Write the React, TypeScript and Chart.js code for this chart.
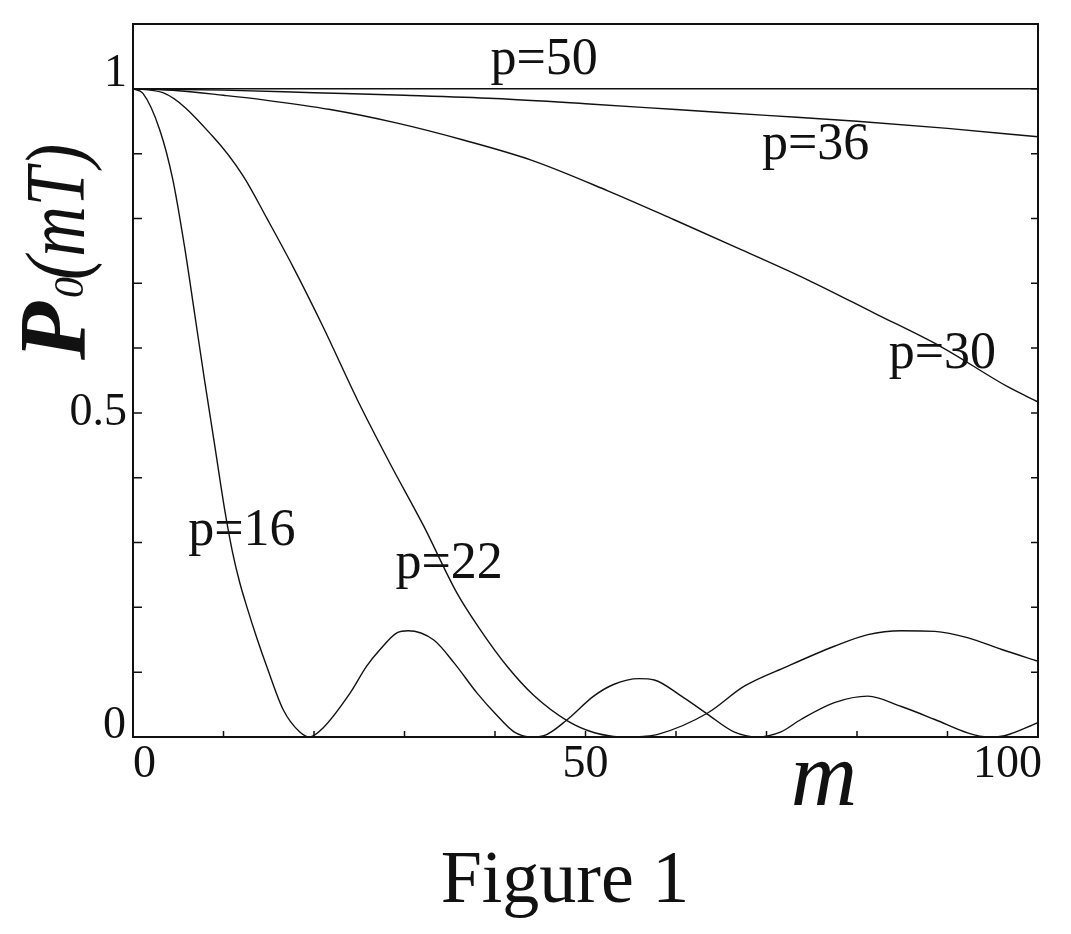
import React, { useEffect, useRef } from "react";
import { Chart, registerables } from "chart.js";

Chart.register(...registerables);

// values: m (x) and P0(mT) (y) for each p
const seriesNames = ["p=16", "p=22", "p=30", "p=36", "p=50"];

const mP16 = [0, 1.1, 2.95, 4.4, 5.7, 6.8, 7.9, 9.05, 10.2, 11.0, 11.8, 12.6, 13.7, 14.8, 16.6, 18.4, 19.5, 21, 24, 25.8, 27.3, 29.2, 30.4, 33.2, 35.5, 38, 40.3, 42.1, 44, 45.4, 48, 50.9, 53.1, 55.9, 57.6, 60.6, 63.5, 66.4, 69, 71.6, 73.8, 77.5, 81.2, 84.9, 88.6, 92.3, 94.5, 96.3, 100];
const pP16 = [1, 0.993, 0.937, 0.86, 0.756, 0.654, 0.551, 0.448, 0.345, 0.285, 0.238, 0.2, 0.152, 0.108, 0.042, 0.008, 0, 0.014, 0.068, 0.109, 0.135, 0.161, 0.164, 0.15, 0.114, 0.068, 0.032, 0.008, 0, 0.002, 0.027, 0.063, 0.081, 0.09, 0.088, 0.063, 0.035, 0.008, 0, 0.008, 0.027, 0.053, 0.063, 0.047, 0.027, 0.006, 0, 0.002, 0.022];

const mP22 = [0, 3.3, 8.85, 12.2, 14.8, 17.7, 21, 24.8, 28.4, 32.1, 35.8, 38.4, 41.4, 44.3, 48, 50.9, 53.1, 54.5, 56.4, 58, 63.5, 67.5, 72.3, 77.5, 81.2, 84.9, 88.6, 92.3, 96, 100];
const pP22 = [1, 0.994, 0.926, 0.865, 0.8, 0.725, 0.633, 0.52, 0.422, 0.326, 0.222, 0.165, 0.108, 0.064, 0.025, 0.007, 0.001, 0, 0.001, 0.004, 0.037, 0.078, 0.109, 0.14, 0.158, 0.164, 0.163, 0.153, 0.135, 0.117];

const mP30 = [0, 5, 10, 14.4, 21.8, 29.2, 36.5, 44, 52.4, 59.8, 67.2, 74.6, 81.9, 89.3, 96.7, 100];
const pP30 = [1, 0.997, 0.99, 0.983, 0.968, 0.947, 0.921, 0.89, 0.843, 0.798, 0.752, 0.705, 0.654, 0.602, 0.54, 0.517];

const mP36 = [0, 10, 20, 30, 40, 50, 60, 70, 80, 90, 100];
const pP36 = [1, 0.998, 0.994, 0.99, 0.985, 0.977, 0.968, 0.959, 0.95, 0.939, 0.926];

const mP50 = [0, 25, 50, 75, 100];
const pP50 = [1, 1, 1, 1, 1];

const xMinorTicks = [10, 20, 30, 40, 50, 60, 70, 80, 90];
const yMinorTicks = [0.1, 0.2, 0.3, 0.4, 0.5, 0.6, 0.7, 0.8, 0.9, 1.0];
const xTickLabels = [0, 50, 100];
const yTickLabels = [0, 0.5, 1];

const FONT = "'Liberation Serif', 'Times New Roman', serif";

// where each curve's label sits, in data units (left edge, baseline)
const labelSpots: [number, number][] = [
	[6.1, 0.296],
	[29.0, 0.245],
	[83.5, 0.569],
	[69.5, 0.892],
	[39.5, 1.023],
];

const overlay = {
	id: "overlay",
	afterDraw(chart: any) {
		const { ctx, chartArea: a } = chart;
		const x = chart.scales.x;
		const y = chart.scales.y;
		ctx.save();
		ctx.strokeStyle = "#111";
		ctx.fillStyle = "#111";

		// frame
		ctx.lineWidth = 2;
		ctx.strokeRect(a.left, a.top, a.right - a.left, a.bottom - a.top);

		// inward ticks
		ctx.lineWidth = 1.5;
		ctx.beginPath();
		xMinorTicks.forEach((v) => {
			const px = x.getPixelForValue(v);
			ctx.moveTo(px, a.bottom);
			ctx.lineTo(px, a.bottom - 6);
		});
		yMinorTicks.forEach((v) => {
			const py = y.getPixelForValue(v);
			ctx.moveTo(a.left, py);
			ctx.lineTo(a.left + 9, py);
			ctx.moveTo(a.right, py);
			ctx.lineTo(a.right - 7, py);
		});
		ctx.stroke();

		// tick labels
		ctx.font = `46px ${FONT}`;
		ctx.textBaseline = "alphabetic";
		xTickLabels.forEach((v, i) => {
			const px = x.getPixelForValue(v);
			ctx.textAlign = i === 0 ? "left" : i === xTickLabels.length - 1 ? "right" : "center";
			const dx = i === 0 ? 0 : i === xTickLabels.length - 1 ? 4 : 0;
			ctx.fillText(String(v), px + dx, a.bottom + 40);
		});
		ctx.textAlign = "right";
		yTickLabels.forEach((v, i) => {
			const py = y.getPixelForValue(v);
			if (i === 0) {
				ctx.textBaseline = "alphabetic";
				ctx.fillText(String(v), a.left - 7, py + 1);
			} else if (i === yTickLabels.length - 1) {
				ctx.textBaseline = "alphabetic";
				ctx.fillText(String(v), a.left - 6, py - 3);
			} else {
				ctx.textBaseline = "middle";
				ctx.fillText(String(v), a.left - 6, py);
			}
		});

		// curve labels
		ctx.font = `52px ${FONT}`;
		ctx.textAlign = "left";
		ctx.textBaseline = "alphabetic";
		seriesNames.forEach((name, i) => {
			const [lm, lp] = labelSpots[i];
			ctx.fillText(name, x.getPixelForValue(lm), y.getPixelForValue(lp));
		});

		// x title
		ctx.font = `italic 92px ${FONT}`;
		ctx.textAlign = "center";
		ctx.fillText("m", 824, a.bottom + 68);

		// caption
		ctx.font = `74px ${FONT}`;
		ctx.fillText("Figure 1", 565, 902);

		// y title, rotated
		ctx.save();
		ctx.translate(85, 360);
		ctx.rotate(-Math.PI / 2);
		ctx.textAlign = "left";
		ctx.font = `bold italic 95px ${FONT}`;
		ctx.fillText("P", 0, 0);
		ctx.font = `italic 42px ${FONT}`;
		ctx.fillText("0", 62, -2);
		ctx.save();
		ctx.translate(80, -1);
		ctx.scale(1, 1.2);
		ctx.font = `italic 70px ${FONT}`;
		ctx.fillText("(mT)", 0, 0);
		ctx.restore();
		ctx.restore();

		ctx.restore();
	},
};

const App = () => {
	const canvasRef = useRef<HTMLCanvasElement>(null);
	const chartInstance = useRef<Chart | null>(null);

	useEffect(() => {
		document.body.style.margin = "0";
		if (!canvasRef.current) return;
		const ctx = canvasRef.current.getContext("2d");
		if (!ctx) return;

		const ms = [mP16, mP22, mP30, mP36, mP50];
		const ps = [pP16, pP22, pP30, pP36, pP50];

		if (chartInstance.current) {
			chartInstance.current.destroy();
		}

		chartInstance.current = new Chart(ctx, {
			type: "line",
			data: {
				datasets: seriesNames.map((name, i) => ({
					label: name,
					data: ms[i].map((m, j) => ({ x: m, y: ps[i][j] })),
					borderColor: "#111",
					borderWidth: 1.4,
					pointRadius: 0,
					fill: false,
					cubicInterpolationMode: "monotone" as const,
				})),
			},
			options: {
				responsive: false,
				animation: false,
				layout: { padding: { left: 133, top: 24, right: 33, bottom: 197 } },
				plugins: {
					legend: { display: false },
					tooltip: { enabled: false },
				},
				scales: {
					x: { type: "linear", min: 0, max: 100, display: false },
					y: { type: "linear", min: 0, max: 1.1, display: false },
				},
			},
			plugins: [overlay],
		});

		return () => {
			if (chartInstance.current) {
				chartInstance.current.destroy();
				chartInstance.current = null;
			}
		};
	}, []);

	return (
		<div style={{ width: 1071, height: 934, background: "#fff" }}>
			<canvas ref={canvasRef} width={1071} height={934} style={{ display: "block" }} />
		</div>
	);
};

export default App;
